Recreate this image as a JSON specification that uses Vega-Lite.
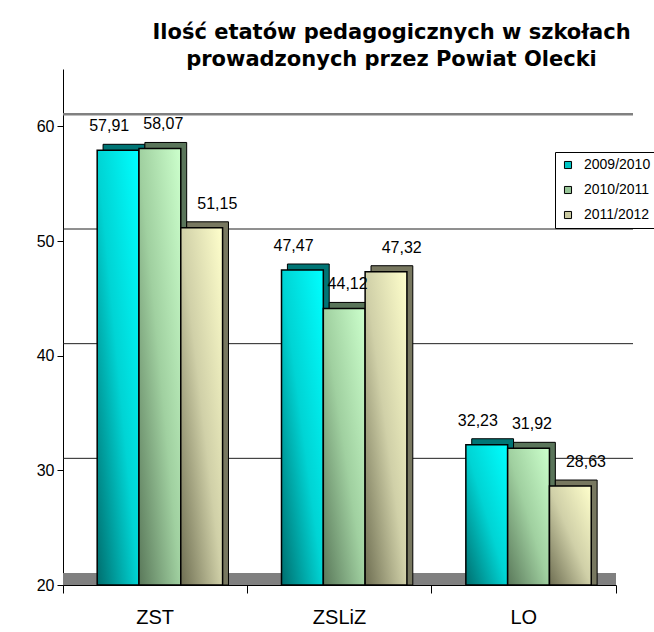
{
  "$schema": "https://vega.github.io/schema/vega-lite/v6.json",
  "width": 553,
  "height": 516,
  "autosize": {"type": "none"},
  "padding": {"left": 63, "top": 69, "right": 38, "bottom": 47},
  "background": "white",
  "config": {
    "font": "Liberation Sans",
    "view": {"stroke": null},
    "locale": {"number": {"decimal": ",", "thousands": " ", "grouping": [3], "currency": ["", " zł"]}}
  },
  "title": {
    "text": ["Ilość etatów pedagogicznych w szkołach", "prowadzonych przez Powiat Olecki"],
    "fontSize": 21,
    "fontWeight": "bold",
    "font": "DejaVu Sans",
    "color": "black",
    "lineHeight": 27,
    "anchor": "middle",
    "dx": 52,
    "offset": -1
  },
  "resolve": {"scale": {"xOffset": "independent"}},
  "datasets": {
    "bars": [
      {"school": "ZST", "series": "2009/2010", "value": 57.91},
      {"school": "ZST", "series": "2010/2011", "value": 58.07},
      {"school": "ZST", "series": "2011/2012", "value": 51.15},
      {"school": "ZSLiZ", "series": "2009/2010", "value": 47.47},
      {"school": "ZSLiZ", "series": "2010/2011", "value": 44.12},
      {"school": "ZSLiZ", "series": "2011/2012", "value": 47.32},
      {"school": "LO", "series": "2009/2010", "value": 32.23},
      {"school": "LO", "series": "2010/2011", "value": 31.92},
      {"school": "LO", "series": "2011/2012", "value": 28.63}
    ],
    "grid": [{"v": 30}, {"v": 40}, {"v": 50}, {"v": 60}],
    "floor": [{"lo": 20, "hi": 21.05}]
  },
  "encoding": {
    "x": {
      "field": "school", "type": "nominal",
      "scale": {"domain": ["ZST", "ZSLiZ", "LO"], "paddingInner": 0, "paddingOuter": 0},
      "axis": {
        "title": null, "labelAngle": 0, "bandPosition": 1, "tickExtra": true,
        "domainColor": "black", "tickColor": "black",
        "tickSize": 8, "labelPadding": 14, "labelFontSize": 20, "labelColor": "black",
        "labelFont": "Liberation Sans"
      }
    }
  },
  "layer": [
    {
      "data": {"name": "floor"},
      "mark": {"type": "rect", "color": "#808080"},
      "encoding": {
        "x": null,
        "y": {"field": "lo", "type": "quantitative", "scale": {"domain": [20, 65], "zero": false, "nice": false},
              "axis": {"title": null, "values": [20, 30, 40, 50, 60], "grid": false, "domainColor": "black",
                       "tickColor": "black", "tickSize": 6, "labelFontSize": 16, "labelColor": "black",
                       "labelPadding": 3, "labelFont": "Liberation Sans"}},
        "y2": {"field": "hi"}
      }
    },
    {
      "data": {"name": "grid"},
      "mark": {"type": "rule", "xOffset": 17, "yOffset": -12},
      "encoding": {
        "x": null,
        "y": {"field": "v", "type": "quantitative"},
        "color": {"condition": {"test": "datum.v === 60", "value": "#808080"}, "value": "#202020"},
        "strokeWidth": {"condition": {"test": "datum.v === 60", "value": 2.5}, "value": 1}
      }
    },
    {
      "data": {"name": "bars"},
      "mark": {"type": "bar", "yOffset": -6, "stroke": "black", "strokeWidth": 1},
      "encoding": {
        "xOffset": {"field": "series", "type": "nominal", "scale": {"domain": ["2009/2010", "2010/2011", "2011/2012"], "paddingInner": 0, "paddingOuter": 0.705, "align": 0.68}},
        "y": {"field": "value", "type": "quantitative"},
        "y2": {"datum": 20},
        "color": {
          "field": "series", "type": "nominal",
          "scale": {"domain": ["2009/2010", "2010/2011", "2011/2012"], "range": ["#00c4c4", "#96c496", "#c8c8a0"]},
          "legend": {
            "title": null, "orient": "none", "legendX": 492, "legendY": 83,
            "strokeColor": "black", "fillColor": "white", "padding": 6,
            "symbolType": "square", "symbolSize": 50, "symbolStrokeColor": "black", "symbolStrokeWidth": 1,
            "labelFontSize": 14, "labelColor": "black", "labelFont": "Liberation Sans", "labelOffset": 9,
            "rowPadding": 11, "labelLimit": 200
          }
        }
      }
    },
    {
      "data": {"name": "bars"},
      "mark": {"type": "bar", "yOffset": -6, "color": "black", "opacity": 0.4},
      "encoding": {
        "xOffset": {"field": "series", "type": "nominal", "scale": {"domain": ["2009/2010", "2010/2011", "2011/2012"], "paddingInner": 0, "paddingOuter": 0.705, "align": 0.68}},
        "y": {"field": "value", "type": "quantitative"},
        "y2": {"datum": 20}
      }
    },
    {
      "data": {"name": "bars"},
      "transform": [{"filter": "datum.series === '2009/2010'"}],
      "mark": {"type": "bar", "stroke": "black", "strokeWidth": 1.5,
        "color": {"gradient": "linear", "x1": 0, "y1": 1, "x2": 1, "y2": 0,
          "stops": [{"offset": 0, "color": "#006e6e"}, {"offset": 0.5, "color": "#00d4d4"}, {"offset": 1, "color": "#00ffff"}]}},
      "encoding": {
        "xOffset": {"field": "series", "type": "nominal", "scale": {"domain": ["2009/2010", "2010/2011", "2011/2012"], "paddingInner": 0, "paddingOuter": 0.705, "align": 0.58}},
        "y": {"field": "value", "type": "quantitative"},
        "y2": {"datum": 20}
      }
    },
    {
      "data": {"name": "bars"},
      "transform": [{"filter": "datum.series === '2010/2011'"}],
      "mark": {"type": "bar", "stroke": "black", "strokeWidth": 1.5,
        "color": {"gradient": "linear", "x1": 0, "y1": 1, "x2": 1, "y2": 0,
          "stops": [{"offset": 0, "color": "#5a785a"}, {"offset": 0.5, "color": "#a0d0a0"}, {"offset": 1, "color": "#ccffcc"}]}},
      "encoding": {
        "xOffset": {"field": "series", "type": "nominal", "scale": {"domain": ["2009/2010", "2010/2011", "2011/2012"], "paddingInner": 0, "paddingOuter": 0.705, "align": 0.58}},
        "y": {"field": "value", "type": "quantitative"},
        "y2": {"datum": 20}
      }
    },
    {
      "data": {"name": "bars"},
      "transform": [{"filter": "datum.series === '2011/2012'"}],
      "mark": {"type": "bar", "stroke": "black", "strokeWidth": 1.5,
        "color": {"gradient": "linear", "x1": 0, "y1": 1, "x2": 1, "y2": 0,
          "stops": [{"offset": 0, "color": "#6e6e52"}, {"offset": 0.5, "color": "#d0d0a8"}, {"offset": 1, "color": "#ffffcc"}]}},
      "encoding": {
        "xOffset": {"field": "series", "type": "nominal", "scale": {"domain": ["2009/2010", "2010/2011", "2011/2012"], "paddingInner": 0, "paddingOuter": 0.705, "align": 0.58}},
        "y": {"field": "value", "type": "quantitative"},
        "y2": {"datum": 20}
      }
    },
    {
      "data": {"name": "bars"},
      "mark": {"type": "text", "fontSize": 16, "color": "black", "baseline": "middle", "dy": -24, "dx": 2, "font": "Liberation Sans"},
      "encoding": {
        "xOffset": {"field": "series", "type": "nominal", "scale": {"domain": ["2009/2010", "2010/2011", "2011/2012"], "paddingInner": 0, "paddingOuter": 0.705, "align": 0.58}},
        "y": {"field": "value", "type": "quantitative"},
        "text": {"field": "value", "type": "quantitative", "format": ".2f"}
      }
    }
  ]
}
